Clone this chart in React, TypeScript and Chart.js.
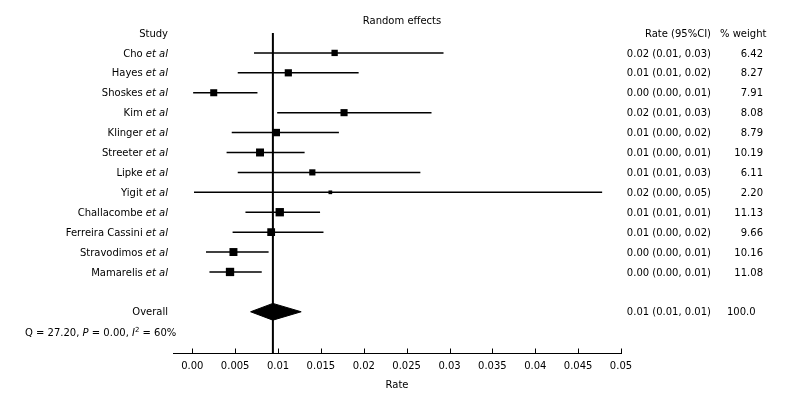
import React, { useEffect, useRef } from "react";
import { Chart, registerables } from "chart.js";
Chart.register(...registerables);

// ---------- data ----------
const studies = [
  "Cho", "Hayes", "Shoskes", "Kim", "Klinger", "Streeter",
  "Lipke", "Yigit", "Challacombe", "Ferreira Cassini", "Stravodimos", "Mamarelis",
];
const rates = [0.0166, 0.0112, 0.0025, 0.0177, 0.0098, 0.0079, 0.0140, 0.0161, 0.0102, 0.0092, 0.0048, 0.0044];
const lows = [0.0072, 0.0053, 0.0001, 0.0099, 0.0046, 0.0040, 0.0053, 0.0002, 0.0062, 0.0047, 0.0016, 0.0020];
const highs = [0.0293, 0.0194, 0.0076, 0.0279, 0.0171, 0.0131, 0.0266, 0.0478, 0.0149, 0.0153, 0.0089, 0.0081];
const weights = [6.42, 8.27, 7.91, 8.08, 8.79, 10.19, 6.11, 2.20, 11.13, 9.66, 10.16, 11.08];
const weightLabels = ["6.42", "8.27", "7.91", "8.08", "8.79", "10.19", "6.11", "2.20", "11.13", "9.66", "10.16", "11.08"];
const rateLabels = [
  "0.02 (0.01, 0.03)", "0.01 (0.01, 0.02)", "0.00 (0.00, 0.01)", "0.02 (0.01, 0.03)",
  "0.01 (0.00, 0.02)", "0.01 (0.00, 0.01)", "0.01 (0.01, 0.03)", "0.02 (0.00, 0.05)",
  "0.01 (0.01, 0.01)", "0.01 (0.00, 0.02)", "0.00 (0.00, 0.01)", "0.00 (0.00, 0.01)",
];
const overallRate = 0.0094;
const overallLow = 0.0068;
const overallHigh = 0.0127;
const overallLabel = "0.01 (0.01, 0.01)";
const overallWeight = "100.0";
const statQ = "27.20";
const statP = "0.00";
const statI2 = "60%";
const xTicks = [0, 0.005, 0.01, 0.015, 0.02, 0.025, 0.03, 0.035, 0.04, 0.045, 0.05];
const xTickLabels = ["0.00", "0.005", "0.01", "0.015", "0.02", "0.025", "0.03", "0.035", "0.04", "0.045", "0.05"];

// ---------- layout constants ----------
const FONT = '"DejaVu Sans", Verdana, sans-serif';
const Y_MIN = -1;
const Y_MAX = 15.07;
const OVERALL_ROW = 13;
const STAT_ROW = 14.05;
const DIAMOND_HALF = 0.42;
const LABEL_RIGHT = 168;
const RATE_RIGHT = 711;
const WEIGHT_RIGHT = 763;

const textPlugin = {
  id: "forestText",
  afterDraw(chart: any) {
    const ctx = chart.ctx as CanvasRenderingContext2D;
    const ys = chart.scales.y;
    const xs = chart.scales.x;
    const normal = `10px ${FONT}`;
    const italic = `italic 10px ${FONT}`;
    ctx.save();
    ctx.fillStyle = "#000";
    ctx.textBaseline = "middle";

    // upward tick marks on x axis
    ctx.strokeStyle = "#000";
    ctx.lineWidth = 1;
    const axisY = Math.round(xs.top) + 0.5;
    xTicks.forEach((v) => {
      const px = Math.round(xs.getPixelForValue(v)) + 0.5;
      ctx.beginPath();
      ctx.moveTo(px, axisY - 5);
      ctx.lineTo(px, axisY);
      ctx.stroke();
    });

    const hy = ys.getPixelForValue(Y_MIN) + 1;
    ctx.font = normal;
    ctx.textAlign = "right";
    ctx.fillText("Study", LABEL_RIGHT, hy);
    ctx.fillText("Rate (95%CI)", RATE_RIGHT, hy);
    ctx.textAlign = "left";
    ctx.fillText("% weight", 720, hy);
    ctx.textAlign = "center";
    ctx.fillText("Random effects", 402, hy - 13);

    studies.forEach((name, i) => {
      const py = ys.getPixelForValue(i) + 1;
      ctx.textAlign = "right";
      ctx.font = italic;
      const etw = ctx.measureText("et al").width;
      ctx.fillText("et al", LABEL_RIGHT, py);
      ctx.font = normal;
      ctx.fillText(name + " ", LABEL_RIGHT - etw, py);
      ctx.fillText(rateLabels[i], RATE_RIGHT, py);
      ctx.fillText(weightLabels[i], WEIGHT_RIGHT, py);
    });

    const oy = ys.getPixelForValue(OVERALL_ROW) + 1;
    ctx.textAlign = "right";
    ctx.font = normal;
    ctx.fillText("Overall", LABEL_RIGHT, oy);
    ctx.fillText(overallLabel, RATE_RIGHT, oy);
    ctx.textAlign = "left";
    ctx.fillText(overallWeight, 727, oy);

    // heterogeneity statistics
    const sy = ys.getPixelForValue(STAT_ROW) + 1;
    let cx = 25;
    const run = (t: string, f: string, dy = 0) => {
      ctx.font = f;
      ctx.textAlign = "left";
      ctx.fillText(t, cx, sy + dy);
      cx += ctx.measureText(t).width;
    };
    run("Q = " + statQ + ", ", normal);
    run("P", italic);
    run(" = " + statP + ", ", normal);
    run("I", italic);
    run("2", `7px ${FONT}`, -4);
    run(" = " + statI2, normal);
    ctx.restore();
  },
};

export default function App() {
  const ref = useRef<HTMLCanvasElement>(null);
  useEffect(() => {
    document.body.style.margin = "0";
    const datasets: any[] = [];
    // reference vertical line at overall estimate
    datasets.push({
      data: [{ x: overallRate, y: Y_MIN }, { x: overallRate, y: Y_MAX }],
      borderColor: "#000",
      borderWidth: 2,
      pointRadius: 0,
      showLine: true,
    });
    // confidence interval lines
    studies.forEach((_, i) => {
      datasets.push({
        data: [{ x: lows[i], y: i }, { x: highs[i], y: i }],
        borderColor: "#000",
        borderWidth: 1.5,
        pointRadius: 0,
        showLine: true,
      });
    });
    // weighted squares
    datasets.push({
      data: studies.map((_, i) => ({ x: rates[i], y: i })),
      showLine: false,
      pointStyle: "rect",
      pointRadius: weights.map((w) => (2.5 * Math.sqrt(w)) / Math.SQRT2),
      backgroundColor: "#000",
      borderColor: "#000",
      borderWidth: 0,
    });
    // overall diamond
    datasets.push({
      data: [
        { x: overallLow, y: OVERALL_ROW },
        { x: overallRate, y: OVERALL_ROW - DIAMOND_HALF },
        { x: overallHigh, y: OVERALL_ROW },
        { x: overallRate, y: OVERALL_ROW + DIAMOND_HALF },
        { x: overallLow, y: OVERALL_ROW },
      ],
      showLine: true,
      borderColor: "#000",
      borderWidth: 1,
      backgroundColor: "#000",
      fill: "shape",
      pointRadius: 0,
      tension: 0,
    });

    const chart = new Chart(ref.current!, {
      type: "line",
      data: { datasets },
      options: {
        animation: false,
        responsive: false,
        devicePixelRatio: 1,
        clip: false as any,
        layout: { padding: { left: 173, right: 171, top: 33, bottom: 10 } },
        font: { family: FONT, size: 10 } as any,
        plugins: { legend: { display: false }, tooltip: { enabled: false } },
        scales: {
          x: {
            type: "linear",
            min: -0.00225,
            max: 0.05,
            grid: { display: false, drawTicks: false },
            border: { display: true, color: "#000", width: 1 },
            afterBuildTicks: (scale: any) => {
              scale.ticks = xTicks.map((v) => ({ value: v }));
            },
            ticks: {
              color: "#000",
              padding: 7,
              maxRotation: 0,
              autoSkip: false,
              font: { family: FONT, size: 10 },
              callback: (_v: any, idx: number) => xTickLabels[idx],
            },
            title: {
              display: true,
              text: "Rate",
              color: "#000",
              font: { family: FONT, size: 10 },
              padding: { top: 0, bottom: 0 },
            },
          },
          y: {
            type: "linear",
            display: false,
            reverse: true,
            min: Y_MIN,
            max: Y_MAX,
          },
        },
      },
      plugins: [textPlugin],
    });
    return () => chart.destroy();
  }, []);
  return (
    <div style={{ width: 792, height: 401, background: "#fff" }}>
      <canvas ref={ref} width={792} height={401} style={{ display: "block" }} />
    </div>
  );
}
